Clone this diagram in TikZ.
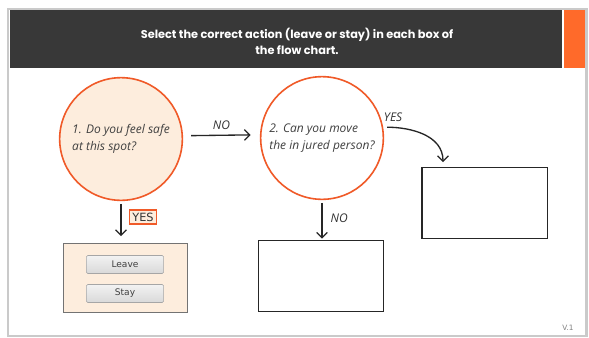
\documentclass[tikz,border=0pt]{standalone}
\usepackage{fontspec}
\usetikzlibrary{positioning, calc, shapes.geometric, arrows.meta}
\newfontfamily\titlefont{Poppins}
\newfontfamily\handfont{Open Sans}
\newfontfamily\buttonfont{DejaVu Sans}
\definecolor{headgray}{HTML}{383838}
\definecolor{headorange}{HTML}{FF6A2A}
\definecolor{ringred}{HTML}{F05A28}
\definecolor{peach}{HTML}{FDEDDD}
\definecolor{framegray}{HTML}{CACACA}
\tikzstyle{Arrow} = [
%open arrow for the flow chart:
line width = 1pt, draw = black!85,
-{Straight Barb[length = 4pt, width = 8pt, line width = 0.9pt]}
]

\begin{document}
\begin{tikzpicture}[x = 0.75pt, y = -0.75pt,
				question/.style = {circle, draw = ringred, line width = 1.2pt, minimum size = 92pt, align = left, font = \handfont\itshape\fontsize{9}{12.8}\selectfont, text = black!75, inner sep = 0pt},
				answerbox/.style = {rectangle, draw = black!85, line width = 1pt, minimum width = 94pt, minimum height = 53pt},
				button/.style = {rectangle, draw = black!35, rounded corners = 1pt, top color = white!95!black, bottom color = black!15, minimum width = 58pt, minimum height = 13.5pt, font = \buttonfont\fontsize{6.8}{8}\selectfont, text = black!75},
				tag/.style = {font = \handfont\itshape\fontsize{9}{10}\selectfont, text = black!80, inner sep = 1pt},
				yestag/.style = {rectangle, draw = ringred, fill = peach, line width = 1pt, font = \buttonfont\fontsize{8.5}{9}\selectfont, text = black!80, inner sep = 2pt},
			]
			\useasboundingbox (0,0) rectangle (589,337);

			% slide frame and header
			\fill[framegray] (7,8) rectangle (588,337);
			\fill[white] (9,10) rectangle (585,335);
			\fill[headgray] (9.5,10) rectangle (562,68);
			\fill[headorange] (564,10) rectangle (585,68);
			\node[text = white, align = center, font = \titlefont\bfseries\fontsize{8.5}{12}\selectfont] (title) at (297,41) {Select the correct action (leave or stay) in each box of\\the flow chart.};

			% questions
			\node[question, fill = peach] (q1) at (121,139) {1. Do you feel safe\\at this spot?};
			\node[question, fill = white] (q2) at (322,138) {2. Can you move\\the in jured person?};

			% answer boxes
			\node[answerbox, fill = peach, draw = black!55, minimum width = 93pt, minimum height = 52pt] (leavebox) at (125.5,278) {};
			\node[button] (leave) at (125,264.5) {Leave};
			\node[button] (stay) at (125,293.5) {Stay};
			\node[answerbox] (nobox) at (321,276) {};
			\node[answerbox] (yesbox) at (484.5,203) {};
			\coordinate (yesend) at (443,162);

			\draw[Arrow, shorten < = 6pt, shorten > = 7pt](q1.3)--node[tag, midway, above = 3pt] {NO}(q2.177);
			\draw[Arrow, shorten < = 2pt, shorten > = 5pt](q1.south)--node[yestag, pos = 0.38, right = 6pt] {YES}(q1.south |- leavebox.north);
			\draw[Arrow, shorten < = 2pt, shorten > = 1pt](q2.south)--node[tag, pos = 0.45, right = 5pt] {NO}(q2.south |- nobox.north);
			\draw[Arrow, shorten < = 3pt](q2.10) to[out = 0, in = 90] node[tag, pos = 0.12, above = 3pt] {YES}(yesend);

			\node[text = black!50, font = \buttonfont\fontsize{5.5}{6}\selectfont] (version) at (568,328) {V.1};

		\end{tikzpicture}
\end{document}
